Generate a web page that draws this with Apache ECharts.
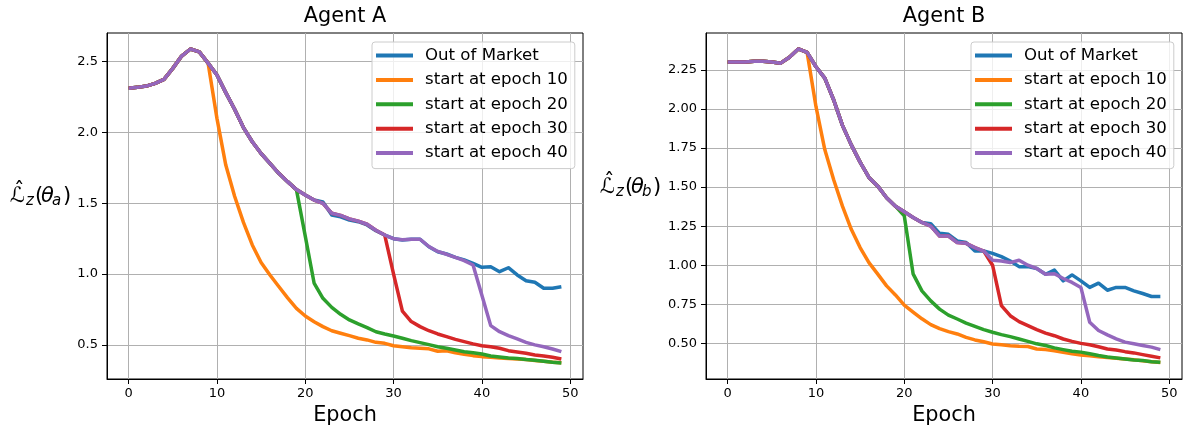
<!DOCTYPE html>
<html><head><meta charset="utf-8">
<script src="https://cdn.jsdelivr.net/npm/echarts@6/dist/echarts.min.js"></script>
<style>html,body{margin:0;padding:0;background:#fff}#c{width:1187px;height:429px}</style>
</head><body><div id="c"></div>
<script>
const epochs = [0,1,2,3,4,5,6,7,8,9,10,11,12,13,14,15,16,17,18,19,20,21,22,23,24,25,26,27,28,29,30,31,32,33,34,35,36,37,38,39,40,41,42,43,44,45,46,47,48,49];
const seriesNames = ['Out of Market','start at epoch 10','start at epoch 20','start at epoch 30','start at epoch 40'];
const colors = ['#1f77b4','#ff7f0e','#2ca02c','#d62728','#9467bd'];
const xTicks = [0,10,20,30,40,50];
const yTicksA = [0.5,1.0,1.5,2.0,2.5];
const yTicksB = [0.5,0.75,1.0,1.25,1.5,1.75,2.0,2.25];

// Agent A
const outA = [2.312,2.319,2.328,2.347,2.376,2.453,2.54,2.59,2.57,2.49,
  2.406,2.282,2.164,2.035,1.935,1.852,1.782,1.712,1.653,1.597,
  1.559,1.523,1.51,1.417,1.405,1.382,1.37,1.347,1.306,1.276,
  1.25,1.241,1.246,1.246,1.193,1.158,1.142,1.118,1.10,1.076,
  1.048,1.052,1.017,1.045,0.994,0.953,0.942,0.90,0.90,0.911];
const s40A = [2.312,2.319,2.328,2.347,2.376,2.453,2.54,2.59,2.57,2.49,
  2.406,2.282,2.164,2.035,1.935,1.852,1.782,1.712,1.653,1.597,
  1.559,1.523,1.50,1.43,1.415,1.39,1.374,1.352,1.31,1.276,
  1.25,1.243,1.246,1.246,1.195,1.16,1.14,1.118,1.095,1.064,
  0.85,0.636,0.593,0.565,0.542,0.518,0.50,0.487,0.471,0.452];
const s10TailA = [2.10,1.77,1.55,1.365,1.206,1.082,0.994,0.912,0.832,0.758,
  0.704,0.664,0.629,0.60,0.582,0.565,0.547,0.535,0.518,0.511,
  0.494,0.487,0.48,0.476,0.472,0.455,0.459,0.445,0.433,0.424,
  0.417,0.412,0.408,0.404,0.40,0.396,0.39,0.384,0.378,0.373];
const s20TailA = [1.268,0.937,0.829,0.765,0.716,0.676,0.648,0.622,0.593,0.577,
  0.563,0.547,0.53,0.516,0.502,0.487,0.476,0.464,0.452,0.445,
  0.436,0.422,0.415,0.408,0.403,0.396,0.391,0.384,0.377,0.372];
const s30TailA = [1.0,0.739,0.665,0.629,0.60,0.577,0.558,0.539,0.523,0.507,
  0.494,0.487,0.476,0.459,0.45,0.441,0.429,0.422,0.412,0.40];

// Agent B
const outB = [2.301,2.30,2.30,2.305,2.305,2.30,2.293,2.331,2.384,2.362,
  2.27,2.197,2.059,1.895,1.77,1.66,1.562,1.506,1.432,1.378,
  1.342,1.306,1.274,1.266,1.204,1.198,1.155,1.145,1.091,1.091,
  1.076,1.055,1.027,0.991,0.991,0.979,0.942,0.969,0.90,0.938,
  0.90,0.858,0.885,0.84,0.858,0.858,0.836,0.819,0.80,0.80];
const s40B = [2.301,2.30,2.30,2.305,2.305,2.30,2.293,2.331,2.384,2.362,
  2.27,2.197,2.059,1.895,1.77,1.66,1.562,1.506,1.432,1.378,
  1.342,1.306,1.274,1.25,1.187,1.187,1.145,1.14,1.113,1.091,
  1.032,1.027,1.017,1.032,1.0,0.979,0.942,0.946,0.915,0.89,
  0.858,0.635,0.582,0.554,0.529,0.508,0.497,0.486,0.476,0.46];
const s10TailB = [2.016,1.74,1.549,1.378,1.23,1.113,1.017,0.943,0.868,0.81,
  0.745,0.70,0.657,0.62,0.594,0.575,0.56,0.538,0.522,0.51,
  0.496,0.491,0.485,0.481,0.48,0.464,0.46,0.453,0.443,0.434,
  0.426,0.42,0.414,0.41,0.405,0.40,0.395,0.388,0.383,0.378];
const s20TailB = [1.316,0.945,0.836,0.772,0.719,0.681,0.656,0.63,0.609,0.588,
  0.571,0.556,0.543,0.528,0.513,0.497,0.486,0.471,0.46,0.45,
  0.444,0.433,0.422,0.413,0.407,0.40,0.394,0.39,0.383,0.379];
const s30TailB = [1.0,0.741,0.677,0.639,0.613,0.588,0.566,0.549,0.528,0.513,
  0.50,0.491,0.478,0.464,0.457,0.447,0.439,0.428,0.418,0.407];

function withPrefix(base, startEpoch, tail){ return base.slice(0, startEpoch).concat(tail); }
function pairs(vals){ return vals.map((v,i)=>[epochs[i], v]); }

const dataA = [outA, withPrefix(s40A,10,s10TailA), withPrefix(s40A,20,s20TailA), withPrefix(s40A,30,s30TailA), s40A];
const dataB = [outB, withPrefix(s40B,10,s10TailB), withPrefix(s40B,20,s20TailB), withPrefix(s40B,30,s30TailB), s40B];

const FONT = 'DejaVu Sans';
const chart = echarts.init(document.getElementById('c'), null, {renderer:'canvas'});

function xAxis(gi){
  return {type:'value', gridIndex:gi, min:-2.45, max:51.45,
    axisLine:{show:true, onZero:false, lineStyle:{color:'#000', width:1}},
    axisTick:{show:true, inside:false, length:5, customValues:xTicks, lineStyle:{color:'#000', width:1}},
    axisLabel:{customValues:xTicks, margin:8, fontSize:13, color:'#000', fontFamily:FONT},
    splitLine:{show:true, lineStyle:{color:'#b0b0b0', width:1}}};
}
function yAxis(gi, min, max, ticks, dec){
  return {type:'value', gridIndex:gi, min:min, max:max,
    axisLine:{show:true, onZero:false, lineStyle:{color:'#000', width:1}},
    axisTick:{show:true, inside:false, length:5, customValues:ticks, lineStyle:{color:'#000', width:1}},
    axisLabel:{customValues:ticks, margin:9, fontSize:13, color:'#000', fontFamily:FONT,
      formatter:v=>Number(v).toFixed(dec)},
    splitLine:{show:true, lineStyle:{color:'#b0b0b0', width:1}}};
}
const series = [];
[dataA, dataB].forEach((set, gi)=>{
  set.forEach((vals, k)=>{
    series.push({type:'line', name:seriesNames[k], xAxisIndex:gi, yAxisIndex:gi,
      data:pairs(vals), showSymbol:false, symbol:'none', smooth:false,
      lineStyle:{color:colors[k], width:3.5, join:'round', cap:'butt'},
      itemStyle:{color:colors[k]}, z:2+k});
  });
});
function legend(left){
  return {left:left, top:42, orient:'vertical', selectedMode:false, data:seriesNames,
    icon:'rect', itemWidth:37, itemHeight:4, itemGap:7.4,
    backgroundColor:'rgba(255,255,255,0.8)', borderColor:'#cccccc', borderWidth:1, borderRadius:3,
    padding:[5,7,7,4],
    textStyle:{fontFamily:FONT, fontSize:16.6, color:'#000', lineHeight:17, padding:[0,0,0,7]}};
}
function yLabel(x0, y0, sub){
  const main = {fontFamily:FONT, fontSize:21, fill:'#000', verticalAlign:'middle', align:'left'};
  const it = {fontFamily:FONT, fontSize:21, fontStyle:'italic', fill:'#000', verticalAlign:'middle', align:'left'};
  const sm = {fontFamily:FONT, fontSize:15, fontStyle:'italic', fill:'#000', verticalAlign:'middle', align:'left'};
  return {type:'group', left:x0, top:y0, children:[
    {type:'text', x:0, y:14, style:Object.assign({text:'ℒ'}, main)},
    {type:'text', x:4, y:9, style:Object.assign({text:'ˆ'}, main)},
    {type:'text', x:16, y:19, style:Object.assign({text:'z'}, sm)},
    {type:'text', x:25, y:14, style:Object.assign({text:'('}, main)},
    {type:'text', x:31, y:14, style:Object.assign({text:'θ'}, it)},
    {type:'text', x:42, y:19, style:Object.assign({text:sub}, sm)},
    {type:'text', x:53, y:14, style:Object.assign({text:')'}, main)}
  ]};
}
const option = {
  animation:false,
  backgroundColor:'#fff',
  grid:[
    {left:107, top:33, width:476, height:346, show:true, borderColor:'#000', borderWidth:1, backgroundColor:'transparent'},
    {left:706, top:33, width:476, height:346, show:true, borderColor:'#000', borderWidth:1, backgroundColor:'transparent'}
  ],
  xAxis:[xAxis(0), xAxis(1)],
  yAxis:[yAxis(0, 0.259, 2.703, yTicksA, 1), yAxis(1, 0.272, 2.486, yTicksB, 2)],
  legend:[legend(372), legend(971)],
  series:series,
  graphic:[
    {type:'text', x:345, y:17, style:{text:'Agent A', fontFamily:FONT, fontSize:20.8, fill:'#000', align:'center', verticalAlign:'middle'}},
    {type:'text', x:944, y:17, style:{text:'Agent B', fontFamily:FONT, fontSize:20.8, fill:'#000', align:'center', verticalAlign:'middle'}},
    {type:'text', x:345, y:416, style:{text:'Epoch', fontFamily:FONT, fontSize:20.8, fill:'#000', align:'center', verticalAlign:'middle'}},
    {type:'text', x:944, y:416, style:{text:'Epoch', fontFamily:FONT, fontSize:20.8, fill:'#000', align:'center', verticalAlign:'middle'}},
    yLabel(10, 181, 'a'),
    yLabel(600, 172, 'b')
  ]
};
chart.setOption(option);
</script></body></html>
